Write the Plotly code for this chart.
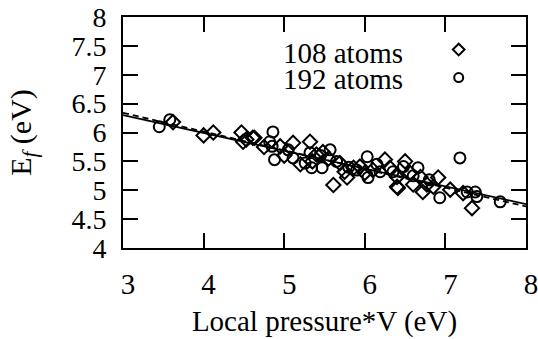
import plotly.graph_objects as go

# 108-atom cell (diamonds)
x108 = [3.62, 4.00, 4.12, 4.47, 4.53, 4.61, 4.49, 4.63, 4.75, 4.95, 5.00, 5.11, 5.20, 5.32,
        5.35, 5.40, 5.48, 5.55, 5.61, 5.69, 5.75, 5.78, 5.86, 5.94, 6.00, 6.10, 6.25, 6.31,
        6.40, 6.40, 6.41, 6.50, 6.56, 6.60, 6.69, 6.72, 6.77, 6.85, 6.91, 7.06, 7.22, 7.33]
y108 = [6.18, 5.95, 6.00, 6.00, 5.88, 5.91, 5.84, 5.91, 5.75, 5.76, 5.60, 5.82, 5.45, 5.84,
        5.50, 5.62, 5.66, 5.55, 5.09, 5.47, 5.32, 5.22, 5.39, 5.41, 5.30, 5.35, 5.53, 5.39,
        5.06, 5.23, 5.04, 5.50, 5.30, 5.10, 5.23, 4.97, 5.10, 5.06, 5.22, 5.01, 4.95, 4.69]

# 192-atom cell (circles)
x192 = [3.45, 3.58, 4.82, 4.85, 4.86, 4.88, 5.05, 5.11, 5.26, 5.32, 5.34, 5.45, 5.47, 5.57,
        5.65, 5.80, 5.90, 6.03, 6.04, 6.15, 6.19, 6.35, 6.48, 6.60, 6.66, 6.80, 6.93, 7.18,
        7.27, 7.37, 7.39, 7.68]
y192 = [6.10, 6.22, 5.84, 5.76, 6.01, 5.53, 5.70, 5.56, 5.47, 5.65, 5.39, 5.60, 5.39, 5.70,
        5.50, 5.40, 5.35, 5.58, 5.22, 5.45, 5.32, 5.32, 5.41, 5.25, 5.39, 5.18, 4.87, 5.56,
        4.97, 4.97, 4.89, 4.80]

# linear fits
fit_x = [3.0, 8.0]
fit_solid = [6.30, 4.76]
fit_dashed = [6.34, 4.72]

legend_labels = ["108 atoms", "192 atoms"]
x_ticks = [3, 4, 5, 6, 7, 8]
x_ticklabels = ["3", "4", "5", "6", "7", "8"]
y_ticks = [4, 4.5, 5, 5.5, 6, 6.5, 7, 7.5, 8]
y_ticklabels = ["4", "4.5", "5", "5.5", "6", "6.5", "7", "7.5", "8"]

FONT = "Liberation Serif, DejaVu Serif, serif"
FS = 29

fig = go.Figure()
fig.add_trace(go.Scatter(x=fit_x, y=fit_solid, mode="lines",
                         line=dict(color="black", width=1.8), showlegend=False))
fig.add_trace(go.Scatter(x=fit_x, y=fit_dashed, mode="lines",
                         line=dict(color="black", width=1.8, dash="6px,4px"), showlegend=False))
fig.add_trace(go.Scatter(x=x108, y=y108, mode="markers",
                         marker=dict(symbol="diamond-open", size=11, color="black",
                                     line=dict(width=2, color="black")), showlegend=False))
fig.add_trace(go.Scatter(x=x192, y=y192, mode="markers",
                         marker=dict(symbol="circle-open", size=11, color="black",
                                     line=dict(width=2, color="black")), showlegend=False))

# legend keys on an auxiliary 0-1 axis
fig.add_trace(go.Scatter(x=[0.833], y=[0.859], xaxis="x2", yaxis="y2", mode="markers",
                         marker=dict(symbol="diamond-open", size=9, color="black",
                                     line=dict(width=2, color="black")), showlegend=False))
fig.add_trace(go.Scatter(x=[0.833], y=[0.738], xaxis="x2", yaxis="y2", mode="markers",
                         marker=dict(symbol="circle-open", size=9, color="black",
                                     line=dict(width=2, color="black")), showlegend=False))

axis_common = dict(showgrid=False, zeroline=False, showline=True, linecolor="black",
                   linewidth=2, mirror="ticks", ticks="inside", ticklen=15, tickwidth=1.5,
                   tickcolor="black", automargin=False, ticklabeloverflow="allow")

fig.update_layout(
    width=538, height=339,
    margin=dict(l=123, r=12, t=17, b=91),
    paper_bgcolor="white", plot_bgcolor="white",
    font=dict(family=FONT, size=FS, color="black"),
    xaxis=dict(range=[3, 8], tickvals=x_ticks, ticktext=x_ticklabels,
               ticklabelstandoff=9, ticklabelshift=5, **axis_common,
               tickfont=dict(family=FONT, size=FS, color="black"),
               title=dict(text="Local pressure*V (eV)", font=dict(family=FONT, size=FS),
                          standoff=12)),
    yaxis=dict(range=[4, 8], tickvals=y_ticks, ticktext=y_ticklabels,
               ticklabelstandoff=9, **axis_common,
               tickfont=dict(family=FONT, size=28, color="black"),
               title=dict(text="E<sub><i>f</i></sub> (eV)", font=dict(family=FONT, size=30),
                          standoff=31)),
    xaxis2=dict(range=[0, 1], overlaying="x", visible=False),
    yaxis2=dict(range=[0, 1], overlaying="y", visible=False),
    annotations=[
        dict(text=legend_labels[0], xref="paper", yref="paper", x=0.70, y=0.846,
             xanchor="right", yanchor="middle", showarrow=False, height=26,
             font=dict(family=FONT, size=FS, color="black")),
        dict(text=legend_labels[1], xref="paper", yref="paper", x=0.70, y=0.731,
             xanchor="right", yanchor="middle", showarrow=False, height=26,
             font=dict(family=FONT, size=FS, color="black")),
    ],
)

fig.write_html("out.html")
